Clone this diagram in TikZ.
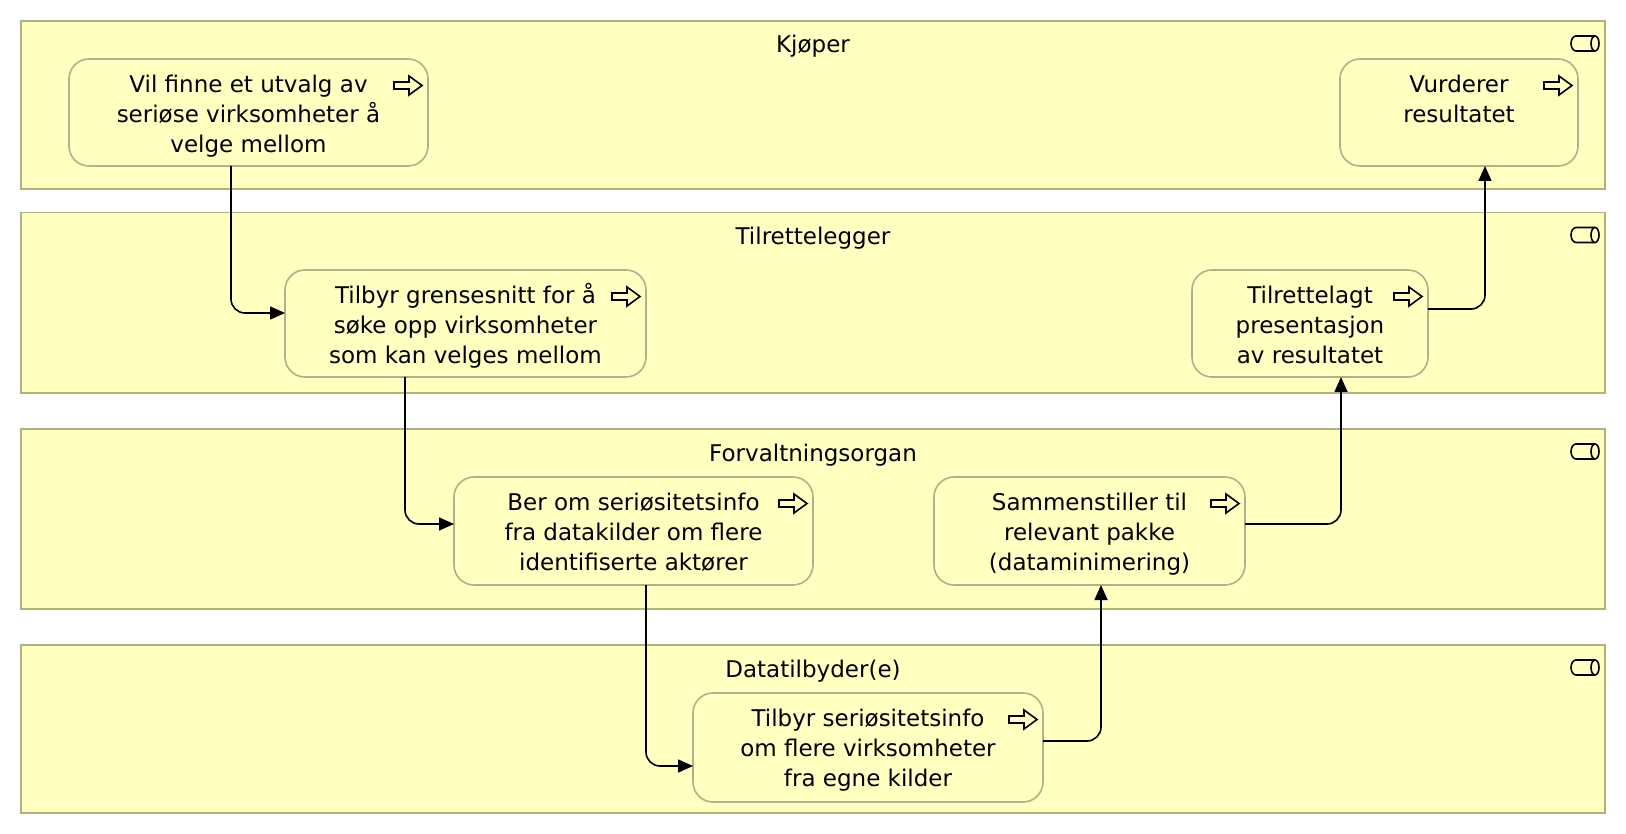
\documentclass[tikz,border=0pt]{standalone}
\usepackage{fontspec}
\setmainfont{DejaVu Sans}
\usetikzlibrary{arrows.meta,calc}
\definecolor{lanefill}{HTML}{FFFFC0}
\definecolor{laneline}{HTML}{B3B17B}
\definecolor{boxline}{HTML}{B2B08C}
\newcommand\procicon[1]{%
  \begin{scope}[shift={(#1.north east)}]
    \draw[iconline] (-34,23) -- (-19,23) -- (-19,17) -- (-6,26.5) -- (-19,36) -- (-19,30) -- (-34,30) -- cycle;
  \end{scope}}
\newcommand\laneicon[1]{%
  \begin{scope}[shift={(#1.north east)}]
    \draw[iconline] (-10,15) -- (-29,15) arc[start angle=90,end angle=270,x radius=5pt,y radius=7.5pt] -- (-10,30);
    \draw[iconline] (-10,22.5) ellipse[x radius=4pt,y radius=7.5pt];
  \end{scope}}
\begin{document}
\begin{tikzpicture}[x=1pt,y=-1pt,
  every node/.style={font=\fontsize{23}{30}\selectfont},
  lane/.style={draw=laneline,fill=lanefill,line width=1.7pt,inner sep=0pt,outer sep=0pt},
  lanetitle/.style={anchor=base,inner sep=0pt},
  box/.style={draw=boxline,fill=lanefill,line width=1.6pt,rounded corners=20pt,inner sep=0pt,outer sep=0pt},
  boxtext/.style={anchor=north,inner sep=0pt,align=center},
  iconline/.style={draw=black,fill=lanefill,line width=1.6pt,line join=miter},
  conn/.style={draw=black,line width=1.6pt,rounded corners=14pt,-{Triangle[length=15pt,width=13pt]}}]
\useasboundingbox (0,0) rectangle (1626,834);
\fill[white] (0,0) rectangle (1626,834);
% lanes
\node[lane,minimum width=1584pt,minimum height=168pt] (L1) at (813,105) {};
\node[lane,minimum width=1584pt,minimum height=180.5pt] (L2) at (813,302.75) {};
\node[lane,minimum width=1584pt,minimum height=180pt] (L3) at (813,519) {};
\node[lane,minimum width=1584pt,minimum height=168pt] (L4) at (813,729) {};
\node[lanetitle] (L1t) at ($(L1.north)+(0,32)$) {Kjøper};
\node[lanetitle] (L2t) at ($(L2.north)+(0,32)$) {Tilrettelegger};
\node[lanetitle] (L3t) at ($(L3.north)+(0,32)$) {Forvaltningsorgan};
\node[lanetitle] (L4t) at ($(L4.north)+(0,32)$) {Datatilbyder(e)};
\laneicon{L1}\laneicon{L2}\laneicon{L3}\laneicon{L4}
% boxes
\node[box,minimum width=359pt,minimum height=107pt] (A) at (248.5,112.5) {};
\node[box,minimum width=238pt,minimum height=107pt] (B) at (1459,112.5) {};
\node[box,minimum width=361pt,minimum height=107pt] (C) at (465.5,323.5) {};
\node[box,minimum width=236pt,minimum height=107pt] (D) at (1310,323.5) {};
\node[box,minimum width=359pt,minimum height=108pt] (E) at (633.5,531) {};
\node[box,minimum width=311pt,minimum height=108pt] (F) at (1089.5,531) {};
\node[box,minimum width=350pt,minimum height=109pt] (G) at (868,747.5) {};
\node[boxtext] (At) at ($(A.north)+(0,13)$) {\rule{0pt}{20pt}Vil finne et utvalg av\\seriøse virksomheter å\\velge mellom};
\node[boxtext] (Bt) at ($(B.north)+(0,13)$) {\rule{0pt}{20pt}Vurderer\\resultatet};
\node[boxtext] (Ct) at ($(C.north)+(0,13)$) {\rule{0pt}{20pt}Tilbyr grensesnitt for å\\søke opp virksomheter\\som kan velges mellom};
\node[boxtext] (Dt) at ($(D.north)+(0,13)$) {\rule{0pt}{20pt}Tilrettelagt\\presentasjon\\av resultatet};
\node[boxtext] (Et) at ($(E.north)+(0,13)$) {\rule{0pt}{20pt}Ber om seriøsitetsinfo\\fra datakilder om flere\\identifiserte aktører};
\node[boxtext] (Ft) at ($(F.north)+(0,13)$) {\rule{0pt}{20pt}Sammenstiller til\\relevant pakke\\(dataminimering)};
\node[boxtext] (Gt) at ($(G.north)+(0,13)$) {\rule{0pt}{20pt}Tilbyr seriøsitetsinfo\\om flere virksomheter\\fra egne kilder};
\procicon{A}\procicon{B}\procicon{C}\procicon{D}\procicon{E}\procicon{F}\procicon{G}
% connectors
\coordinate (k1) at (231,313);
\coordinate (k2) at (405,524);
\coordinate (k3) at (646,766);
\coordinate (k4) at (1101,741);
\coordinate (k5) at (1341,524);
\coordinate (k6) at (1485,309);
\draw[conn] (A.south -| k1) |- (C.west |- k1);
\draw[conn] (C.south -| k2) |- (E.west |- k2);
\draw[conn] (E.south -| k3) |- (G.west |- k3);
\draw[conn] (G.east |- k4) -| (F.south -| k4);
\draw[conn] (F.east |- k5) -| (D.south -| k5);
\draw[conn] (D.east |- k6) -| (B.south -| k6);
\end{tikzpicture}
\end{document}
